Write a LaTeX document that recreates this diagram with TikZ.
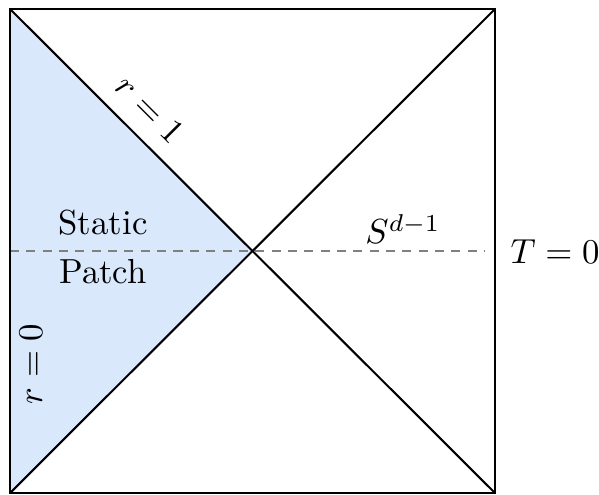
\documentclass[tikz,border=0pt]{standalone}
\usepackage{amsmath}
\definecolor{patchblue}{HTML}{DAE8FC}
\definecolor{dashgray}{HTML}{808080}
\tikzset{
  edgeline/.style={draw=black, line width=0.6pt},
  tzero/.style={draw=dashgray, line width=0.45pt, dash pattern=on 2.6pt off 2.1pt},
  lbl/.style={inner sep=0pt}
}
\begin{document}
\begin{tikzpicture}[x=0.2875pt,y=-0.2875pt]
\useasboundingbox (0,0) rectangle (599,494);
\coordinate (tl) at (10,9);
\coordinate (tr) at (495,9);
\coordinate (br) at (495,493);
\coordinate (bl) at (10,493);
\coordinate (c) at (252.5,251);
\coordinate (dl) at (10,251);
\coordinate (dr) at (485,251);
\fill[patchblue] (tl) -- (c) -- (bl) -- cycle;
\draw[tzero] (dl) -- (dr);
\draw[edgeline] (tl) -- (tr) -- (br) -- (bl) -- cycle;
\draw[edgeline] (tl) -- (br);
\draw[edgeline] (tr) -- (bl);
\node[lbl, rotate=-45] (r1) at (150,109) {$r=1$};
\node[lbl] (st) at (103,223) {Static};
\node[lbl] (pa) at (103,272) {Patch};
\node[lbl, rotate=90] (r0) at (31,364) {$r=0$};
\node[lbl] (sd) at (403,229) {$S^{d-1}$};
\node[lbl] (t0) at (555,252) {$T=0$};
\end{tikzpicture}
\end{document}
